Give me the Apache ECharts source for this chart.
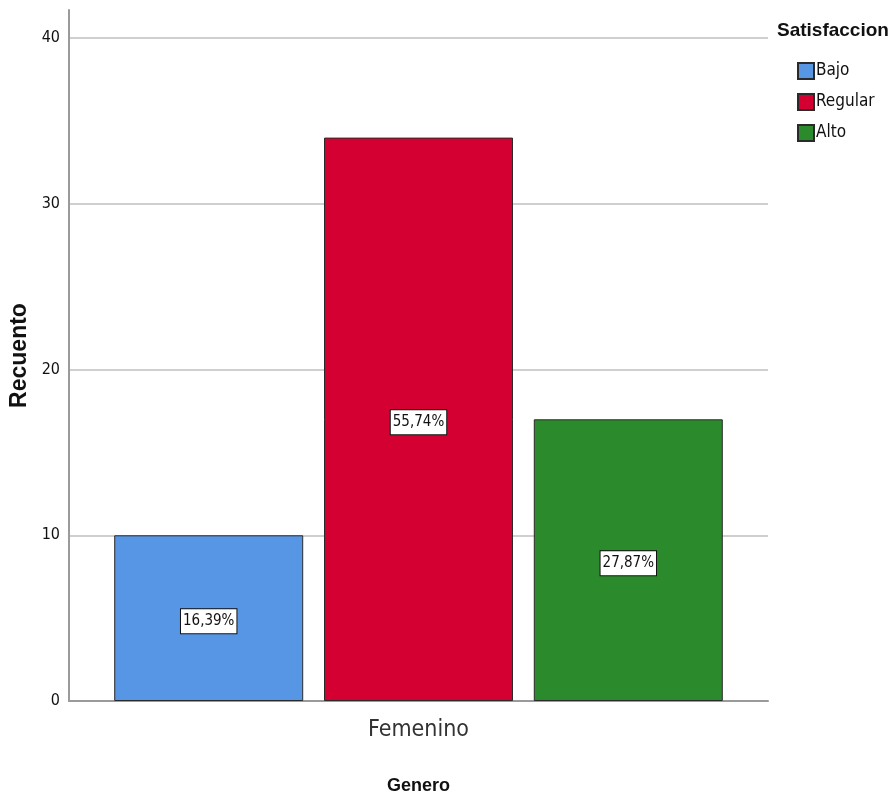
<!DOCTYPE html>
<html>
<head>
<meta charset="utf-8">
<script src="https://cdn.jsdelivr.net/npm/echarts@6/dist/echarts.min.js"></script>
<style>
  html, body { margin: 0; padding: 0; background: #ffffff; }
  #chart { width: 895px; height: 796px; }
</style>
</head>
<body>
<div id="chart"></div>
<script>
// Counts of satisfaction level among respondents, by gender
const categories = ['Femenino'];
const levels = ['Bajo', 'Regular', 'Alto'];
const bajo = [10];
const regular = [34];
const alto = [17];
const yTicks = [0, 10, 20, 30, 40];

const colors = ['#5796e4', '#d50032', '#2b8a2b'];
const narrow = '"Liberation Sans Narrow", "DejaVu Sans Condensed", "Arial Narrow", sans-serif';
const sans = '"Liberation Sans", Arial, sans-serif';

const seriesData = [bajo, regular, alto];
const total = seriesData.reduce((s, arr) => s + arr[0], 0);

function pct(v) {
  return (v / total * 100).toFixed(2).replace('.', ',') + '%';
}

const chart = echarts.init(document.getElementById('chart'), null, { renderer: 'canvas' });

chart.setOption({
  backgroundColor: '#ffffff',
  animation: false,
  title: {
    text: 'Satisfaccion',
    left: 777,
    top: 21,
    padding: 0,
    textStyle: { fontFamily: sans, fontWeight: 'bold', fontSize: 19, color: '#111' }
  },
  legend: {
    orient: 'vertical',
    left: 797,
    top: 62,
    padding: 0,
    icon: 'rect',
    itemWidth: 16,
    itemHeight: 16,
    itemGap: 13,
    data: levels,
    textStyle: { fontFamily: narrow, fontSize: 17, color: '#111', padding: [0, 0, 0, -3] }
  },
  grid: { left: 69, right: 127, top: 10, bottom: 95, containLabel: false, outerBoundsMode: 'none' },
  xAxis: {
    type: 'category',
    data: categories,
    name: 'Genero',
    nameLocation: 'middle',
    nameGap: 76,
    nameTextStyle: { fontFamily: sans, fontWeight: 'bold', fontSize: 18, color: '#111' },
    axisLine: { show: true, lineStyle: { color: '#9a9a9a', width: 2 } },
    axisTick: { show: false },
    axisLabel: { fontFamily: narrow, fontSize: 23, color: '#333', margin: 18 },
    splitLine: { show: false }
  },
  yAxis: {
    type: 'value',
    min: 0,
    max: 41.7,
    interval: 10,
    name: 'Recuento',
    nameLocation: 'middle',
    nameGap: 37,
    nameRotate: 90,
    nameTextStyle: { fontFamily: sans, fontWeight: 'bold', fontSize: 23, color: '#111' },
    axisLine: { show: true, lineStyle: { color: '#9a9a9a', width: 2 } },
    axisTick: { show: false },
    axisLabel: {
      fontFamily: narrow, fontSize: 16, color: '#111', margin: 9,
      showMaxLabel: false,
      formatter: v => (yTicks.indexOf(v) >= 0 ? String(v) : '')
    },
    splitLine: { show: true, showMinLine: false, showMaxLine: false, lineStyle: { color: '#cfcfcf', width: 2 } }
  },
  series: levels.map((name, i) => ({
    name: name,
    type: 'bar',
    data: seriesData[i],
    barWidth: 189,
    barGap: '11%',
    itemStyle: { color: colors[i], borderColor: '#2a2a2a', borderWidth: 1 },
    label: {
      show: true,
      position: 'inside',
      offset: [0, 3],
      formatter: p => pct(p.value),
      fontFamily: narrow,
      fontSize: 15,
      color: '#111',
      backgroundColor: '#ffffff',
      borderColor: '#111',
      borderWidth: 1,
      padding: [5, 2, 4, 2]
    }
  }))
});
</script>
</body>
</html>
